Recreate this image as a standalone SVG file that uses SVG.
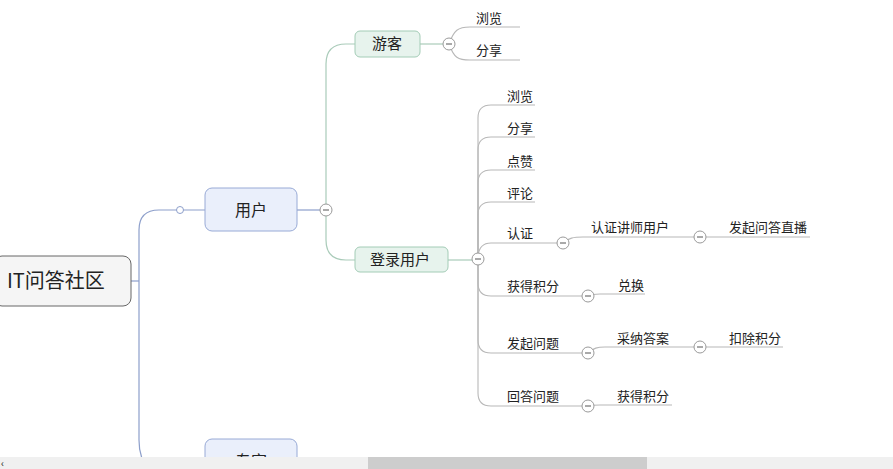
<svg xmlns="http://www.w3.org/2000/svg" width="893" height="469" viewBox="0 0 893 469">
<style>
text{font-family:"Noto Sans CJK SC","Liberation Sans",sans-serif;fill:#222}
.leaf{font-size:13px}
.c1{fill:none;stroke:#8d9fcb;stroke-width:1.2}
.c2{fill:none;stroke:#a9cbb9;stroke-width:1.2}
.c3{fill:none;stroke:#b8b8b8;stroke-width:1.1}
.tog{fill:#fff;stroke:#9a9a9a;stroke-width:1}
.togm{stroke:#555;stroke-width:1}
</style>
<rect width="893" height="469" fill="#fff"/>
<g id="connectors">
<path class="c1" d="M131,281 H139"/>
<path class="c1" d="M150,470 Q139,460 139,440 V230 Q139,210 159,210 H205"/>
<path class="c1" d="M297,210 H326"/>
<path class="c2" d="M326,210 V64 Q326,44 346,44 H355"/>
<path class="c2" d="M326,210 V240 Q326,260 346,260 H355"/>
<path class="c2" d="M420,44 H449"/>
<path class="c2" d="M448,260 H478"/>
<path class="c3" d="M449,44 C454,30 458,27 470,27 H520"/>
<path class="c3" d="M449,44 C454,58 458,60 470,60 H520"/>
<path class="c3" d="M478,259 V118 Q478,105 491,105 H535"/>
<path class="c3" d="M478,259 V150 Q478,137 491,137 H535"/>
<path class="c3" d="M478,259 V183 Q478,170 491,170 H535"/>
<path class="c3" d="M478,259 V215 Q478,202 491,202 H535"/>
<path class="c3" d="M478,259 Q478,243 491,243 H563"/>
<path class="c3" d="M478,259 V283 Q478,296 491,296 H588"/>
<path class="c3" d="M478,259 V340 Q478,353 491,353 H588"/>
<path class="c3" d="M478,259 V393 Q478,406 491,406 H588"/>
<path class="c3" d="M563,243 C569,238 573,237 583,237 H810"/>
<path class="c3" d="M588,296 C592,294 594,294 600,294 H645"/>
<path class="c3" d="M588,353 C594,348 597,347 605,347 H783"/>
<path class="c3" d="M588,406 C592,405 594,405 600,405 H672"/>
<circle cx="180" cy="210" r="3.5" fill="#fff" stroke="#8d9fcb" stroke-width="1"/>
</g>
<g id="root">
<rect x="-6" y="256" width="137" height="50" rx="8" fill="#f5f5f5" stroke="#666" stroke-width="1"/>
<text x="7" y="288" font-size="20">IT问答社区</text>
</g>
<g id="n-user">
<rect x="205" y="188" width="92" height="43" rx="7" fill="#eaeffb" stroke="#98aad6" stroke-width="1"/>
<text x="251" y="216" font-size="16" text-anchor="middle">用户</text>
<circle class="tog" cx="326" cy="210" r="6"/><path class="togm" d="M323,210 H329"/>
</g>
<g id="n-guest">
<rect x="355" y="31" width="65" height="26" rx="5" fill="#e7f3ed" stroke="#a3ccb6" stroke-width="1"/>
<text x="387" y="49" font-size="15" text-anchor="middle">游客</text>
<circle class="tog" cx="449" cy="44" r="6"/><path class="togm" d="M446,44 H452"/>
</g>
<g id="n-guest-browse"><text class="leaf" x="476" y="23">浏览</text></g>
<g id="n-guest-share"><text class="leaf" x="476" y="55">分享</text></g>
<g id="n-login">
<rect x="355" y="247" width="93" height="25" rx="5" fill="#e7f3ed" stroke="#a3ccb6" stroke-width="1"/>
<text x="400" y="265" font-size="15" text-anchor="middle">登录用户</text>
<circle class="tog" cx="478" cy="259" r="6"/><path class="togm" d="M475,259 H481"/>
</g>
<g id="n-browse"><text class="leaf" x="507" y="101">浏览</text></g>
<g id="n-share"><text class="leaf" x="507" y="133">分享</text></g>
<g id="n-like"><text class="leaf" x="507" y="166">点赞</text></g>
<g id="n-comment"><text class="leaf" x="507" y="198">评论</text></g>
<g id="n-cert">
<text class="leaf" x="507" y="238">认证</text>
<circle class="tog" cx="563" cy="243" r="6"/><path class="togm" d="M560,243 H566"/>
</g>
<g id="n-cert-lecturer">
<text class="leaf" x="591" y="232">认证讲师用户</text>
<circle class="tog" cx="700" cy="237" r="6"/><path class="togm" d="M697,237 H703"/>
</g>
<g id="n-live"><text class="leaf" x="729" y="232">发起问答直播</text></g>
<g id="n-points">
<text class="leaf" x="507" y="291">获得积分</text>
<circle class="tog" cx="588" cy="296" r="6"/><path class="togm" d="M585,296 H591"/>
</g>
<g id="n-exchange"><text class="leaf" x="618" y="290">兑换</text></g>
<g id="n-ask">
<text class="leaf" x="507" y="348">发起问题</text>
<circle class="tog" cx="588" cy="353" r="6"/><path class="togm" d="M585,353 H591"/>
</g>
<g id="n-adopt">
<text class="leaf" x="617" y="343">采纳答案</text>
<circle class="tog" cx="700" cy="347" r="6"/><path class="togm" d="M697,347 H703"/>
</g>
<g id="n-deduct"><text class="leaf" x="729" y="343">扣除积分</text></g>
<g id="n-answer">
<text class="leaf" x="507" y="401">回答问题</text>
<circle class="tog" cx="588" cy="406" r="6"/><path class="togm" d="M585,406 H591"/>
</g>
<g id="n-gain"><text class="leaf" x="617" y="401">获得积分</text></g>
<g id="n-expert">
<rect x="205" y="439" width="92" height="43" rx="7" fill="#eaeffb" stroke="#98aad6" stroke-width="1"/>
<text x="251" y="467" font-size="16" text-anchor="middle">专家</text>
</g>
<g id="scrollbar">
<rect x="0" y="457" width="893" height="12" fill="#f0f0f0"/>
<rect x="368" y="457" width="279" height="12" fill="#cdcdcd"/>
<text x="1" y="467" font-size="10" fill="#555">‹</text>
</g>
</svg>
